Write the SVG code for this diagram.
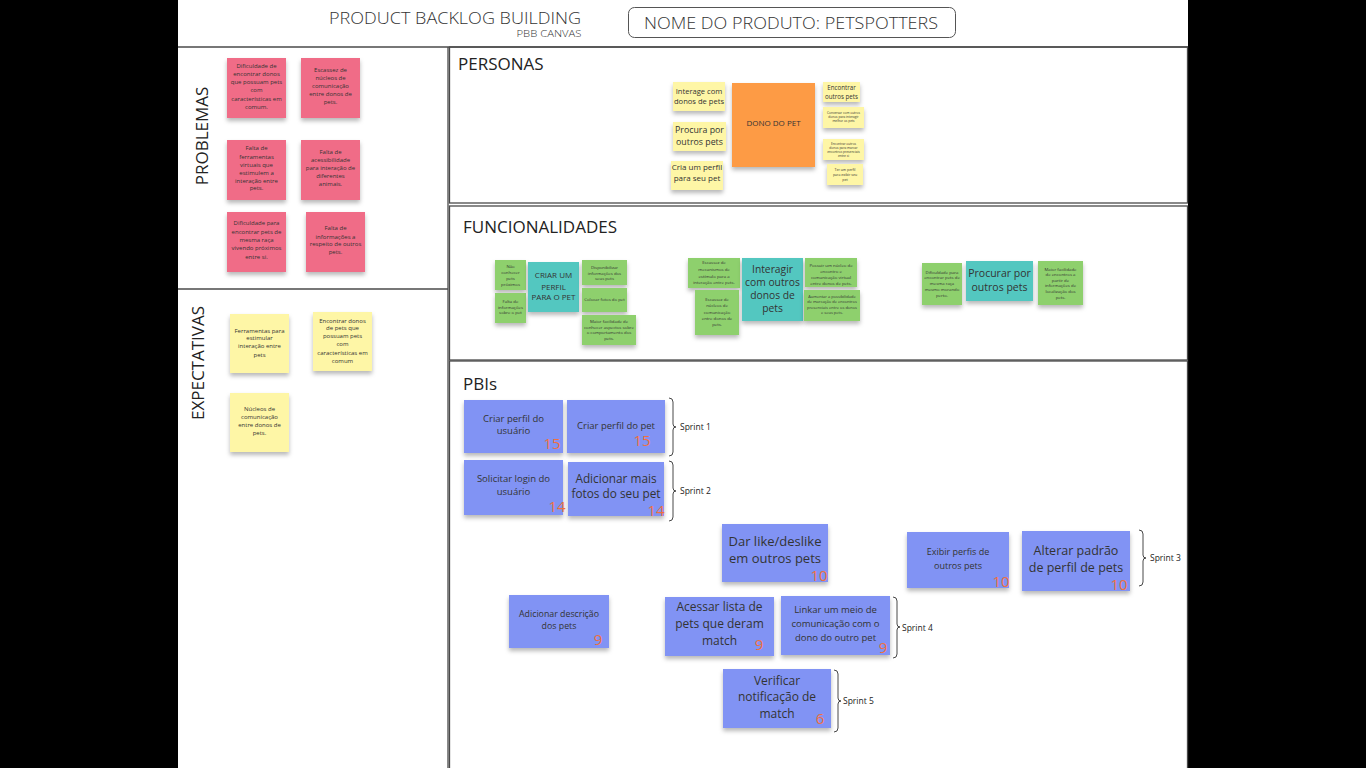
<svg xmlns="http://www.w3.org/2000/svg" width="1366" height="768" viewBox="0 0 1366 768">
<defs>
<filter id="sh" x="-20%" y="-20%" width="140%" height="150%">
<feDropShadow dx="0" dy="3" stdDeviation="2" flood-color="#000" flood-opacity="0.28"/>
</filter>
<style>
text{font-family:"Open Sans","Liberation Sans",sans-serif;fill:#333;text-anchor:middle}
.frame{fill:none;stroke:#4a4a4a;stroke-width:1.3}
.st{filter:url(#sh)}
.pink{fill:#f06c87}
.yel{fill:#fef6a6}
.org{fill:#fd9b45}
.grn{fill:#8ed06d}
.teal{fill:#52c7c0}
.blu{fill:#8193f4}
.title{font-size:17px;text-anchor:start;fill:#222}
.num{fill:#f0703e;font-size:15px}
.t65{font-size:6px}
.t45{font-size:4.3px}
.sp{font-size:8.5px;text-anchor:start;fill:#222}
.br{fill:none;stroke:#333;stroke-width:0.9}
</style>
</defs>
<rect x="0" y="0" width="1366" height="768" fill="#000"/>
<rect x="178" y="0" width="1010" height="768" fill="#fff"/>
<g id="frame">
<line class="frame" x1="178" y1="47" x2="1188" y2="47"/>
<line class="frame" x1="448" y1="47" x2="448" y2="768"/>
<line class="frame" x1="178" y1="289" x2="448" y2="289"/>
<rect class="frame" x="449.5" y="47" width="738" height="156"/>
<rect class="frame" x="449.5" y="206" width="738" height="154"/>
<rect class="frame" x="449.5" y="361" width="738" height="408"/>
</g>
<g id="header">
<text x="455" y="24" style="font-size:16px;fill:#333;font-weight:300" textLength="252" lengthAdjust="spacingAndGlyphs">PRODUCT BACKLOG BUILDING</text>
<text x="549" y="37" style="font-size:8.5px;fill:#333;font-weight:300" textLength="65" lengthAdjust="spacingAndGlyphs">PBB CANVAS</text>
<rect x="628.5" y="7.5" width="327" height="30" rx="6" fill="#fff" stroke="#555" stroke-width="1"/>
<text x="791" y="28.5" style="font-size:17px;fill:#333;font-weight:300" textLength="294" lengthAdjust="spacingAndGlyphs">NOME DO PRODUTO: PETSPOTTERS</text>
</g>
<g id="titles">
<text transform="translate(208,136) rotate(-90)" style="font-size:17px;fill:#222">PROBLEMAS</text>
<text transform="translate(204,363) rotate(-90)" style="font-size:17px;fill:#222">EXPECTATIVAS</text>
<text class="title" x="458" y="70">PERSONAS</text>
<text class="title" x="463" y="233">FUNCIONALIDADES</text>
<text class="title" x="463" y="390">PBIs</text>
</g>
<g id="problemas">
<g id="p1"><rect class="st pink" x="227" y="58" width="59" height="60"/><text class="t65"><tspan x="256.5" y="68">Dificuldade de</tspan><tspan x="256.5" y="76">encontrar donos</tspan><tspan x="256.5" y="84">que possuam pets</tspan><tspan x="256.5" y="92">com</tspan><tspan x="256.5" y="101">características em</tspan><tspan x="256.5" y="109">comum.</tspan></text></g>
<g id="p2"><rect class="st pink" x="301" y="58" width="59" height="60"/><text class="t65"><tspan x="330.5" y="72">Escassez de</tspan><tspan x="330.5" y="80">núcleos de</tspan><tspan x="330.5" y="88">comunicação</tspan><tspan x="330.5" y="96">entre donos de</tspan><tspan x="330.5" y="104">pets.</tspan></text></g>
<g id="p3"><rect class="st pink" x="227" y="140" width="59" height="60"/><text class="t65"><tspan x="256.5" y="150">Falta de</tspan><tspan x="256.5" y="159">ferramentas</tspan><tspan x="256.5" y="167">virtuais que</tspan><tspan x="256.5" y="175">estimulem a</tspan><tspan x="256.5" y="183">interação entre</tspan><tspan x="256.5" y="190">pets.</tspan></text></g>
<g id="p4"><rect class="st pink" x="301" y="140" width="59" height="60"/><text class="t65"><tspan x="330.5" y="154">Falta de</tspan><tspan x="330.5" y="162">acessibilidade</tspan><tspan x="330.5" y="170">para interação de</tspan><tspan x="330.5" y="178">diferentes</tspan><tspan x="330.5" y="186">animais.</tspan></text></g>
<g id="p5"><rect class="st pink" x="227" y="212" width="59" height="60"/><text class="t65"><tspan x="256.5" y="225">Dificuldade para</tspan><tspan x="256.5" y="234">encontrar pets de</tspan><tspan x="256.5" y="242">mesma raça</tspan><tspan x="256.5" y="250">vivendo próximos</tspan><tspan x="256.5" y="259">entre si.</tspan></text></g>
<g id="p6"><rect class="st pink" x="306" y="212" width="59" height="60"/><text class="t65"><tspan x="335.5" y="230">Falta de</tspan><tspan x="335.5" y="239">informações a</tspan><tspan x="335.5" y="246">respeito de outros</tspan><tspan x="335.5" y="254">pets.</tspan></text></g>
</g>
<g id="expectativas">
<g id="e1"><rect class="st yel" x="230" y="314" width="59" height="59"/><text class="t65"><tspan x="259.5" y="333">Ferramentas para</tspan><tspan x="259.5" y="340">estimular</tspan><tspan x="259.5" y="348">interação entre</tspan><tspan x="259.5" y="357">pets</tspan></text></g>
<g id="e2"><rect class="st yel" x="313" y="312" width="59" height="59"/><text class="t65"><tspan x="342.5" y="323">Encontrar donos</tspan><tspan x="342.5" y="330">de pets que</tspan><tspan x="342.5" y="338">possuam pets</tspan><tspan x="342.5" y="346">com</tspan><tspan x="342.5" y="355">características em</tspan><tspan x="342.5" y="363">comum</tspan></text></g>
<g id="e3"><rect class="st yel" x="230" y="393" width="59" height="59"/><text class="t65"><tspan x="259.5" y="411">Núcleos de</tspan><tspan x="259.5" y="419">comunicação</tspan><tspan x="259.5" y="427">entre donos de</tspan><tspan x="259.5" y="435">pets.</tspan></text></g>
</g>
<g id="personas">
<g id="pe1"><rect class="st yel" x="673" y="82" width="52" height="29"/><text style="font-size:7.6px"><tspan x="699" y="94">Interage com</tspan><tspan x="699" y="104">donos de pets</tspan></text></g>
<g id="pe2"><rect class="st yel" x="673" y="122" width="53" height="29"/><text style="font-size:8.8px"><tspan x="699.5" y="133">Procura por</tspan><tspan x="699.5" y="145">outros pets</tspan></text></g>
<g id="pe3"><rect class="st yel" x="671" y="161" width="52" height="29"/><text style="font-size:8px"><tspan x="697" y="170">Cria um perfil</tspan><tspan x="697" y="181">para seu pet</tspan></text></g>
<g id="pe4"><rect class="st org" x="732" y="83" width="83" height="84"/><text x="773.5" y="126" style="font-size:8px">DONO DO PET</text></g>
<g id="pe5"><rect class="st yel" x="823" y="82" width="37" height="20"/><text style="font-size:6.2px"><tspan x="841.5" y="90">Encontrar</tspan><tspan x="841.5" y="98.5">outros pets</tspan></text></g>
<g id="pe6"><rect class="st yel" x="823" y="107" width="41" height="21"/><text style="font-size:3.2px"><tspan x="843.5" y="114">Conversar com outros</tspan><tspan x="843.5" y="118">donos para interagir</tspan><tspan x="843.5" y="122">melhor os pets</tspan></text></g>
<g id="pe7"><rect class="st yel" x="823" y="139" width="41" height="21"/><text style="font-size:3.2px"><tspan x="843.5" y="145">Encontrar outros</tspan><tspan x="843.5" y="149">donos para marcar</tspan><tspan x="843.5" y="153">encontros presenciais</tspan><tspan x="843.5" y="157">entre si</tspan></text></g>
<g id="pe8"><rect class="st yel" x="827" y="164" width="36" height="21"/><text style="font-size:3.5px"><tspan x="845" y="171">Ter um perfil</tspan><tspan x="845" y="176">para exibir seu</tspan><tspan x="845" y="181">pet</tspan></text></g>
</g>
<g id="funcionalidades">
<g id="f1"><rect class="st grn" x="495" y="260" width="31" height="30"/><text class="t45"><tspan x="510.5" y="267.5">Não</tspan><tspan x="510.5" y="273.5">conhecer</tspan><tspan x="510.5" y="279.5">pets</tspan><tspan x="510.5" y="285.5">próximos</tspan></text></g>
<g id="f2"><rect class="st grn" x="495" y="293" width="31" height="30"/><text class="t45"><tspan x="510.5" y="302.5">Falta de</tspan><tspan x="510.5" y="308.5">informações</tspan><tspan x="510.5" y="313.5">sobre o pet</tspan></text></g>
<g id="f3"><rect class="st teal" x="528" y="262" width="51" height="50"/><text style="font-size:8px"><tspan x="553.5" y="278">CRIAR UM</tspan><tspan x="553.5" y="290">PERFIL</tspan><tspan x="553.5" y="300">PARA O PET</tspan></text></g>
<g id="f4"><rect class="st grn" x="582" y="260" width="45" height="25"/><text class="t45"><tspan x="604.5" y="268.5">Disponibilizar</tspan><tspan x="604.5" y="274.5">informações dos</tspan><tspan x="604.5" y="279.5">seus pets</tspan></text></g>
<g id="f5"><rect class="st grn" x="582" y="288" width="45" height="24"/><text class="t45" x="604.5" y="300.5">Colocar fotos do pet</text></g>
<g id="f6"><rect class="st grn" x="582" y="315" width="54" height="30"/><text class="t45"><tspan x="609" y="322.5">Maior facilidade de</tspan><tspan x="609" y="328.5">conhecer aspectos sobre</tspan><tspan x="609" y="333.5">o comportamento dos</tspan><tspan x="609" y="339.5">pets.</tspan></text></g>
<g id="f7"><rect class="st grn" x="688" y="258" width="52" height="30"/><text class="t45"><tspan x="714" y="263.5">Escassez de</tspan><tspan x="714" y="270.5">mecanismos de</tspan><tspan x="714" y="277.5">estímulo para a</tspan><tspan x="714" y="283.5">interação entre pets.</tspan></text></g>
<g id="f8"><rect class="st grn" x="695" y="290" width="44" height="45"/><text class="t45"><tspan x="717" y="300.5">Escassez de</tspan><tspan x="717" y="306.5">núcleos de</tspan><tspan x="717" y="313.5">comunicação</tspan><tspan x="717" y="319.5">entre donos de</tspan><tspan x="717" y="325.5">pets.</tspan></text></g>
<g id="f9"><rect class="st teal" x="742" y="258" width="61" height="63"/><text style="font-size:10.3px"><tspan x="772.5" y="273">Interagir</tspan><tspan x="772.5" y="286">com outros</tspan><tspan x="772.5" y="299">donos de</tspan><tspan x="772.5" y="312">pets</tspan></text></g>
<g id="f10"><rect class="st grn" x="805" y="258" width="52" height="29"/><text class="t45"><tspan x="831" y="266.5">Possuir um núcleo de</tspan><tspan x="831" y="272.5">encontro e</tspan><tspan x="831" y="278.5">comunicação virtual</tspan><tspan x="831" y="284.5">entre donos de pets.</tspan></text></g>
<g id="f11"><rect class="st grn" x="804" y="290" width="56" height="31"/><text style="font-size:4px"><tspan x="832" y="297.5">Aumentar a possibilidade</tspan><tspan x="832" y="302.5">de marcação de encontros</tspan><tspan x="832" y="308.5">presenciais entre os donos</tspan><tspan x="832" y="313.5">e seus pets.</tspan></text></g>
<g id="f12"><rect class="st grn" x="922" y="263" width="40" height="42"/><text class="t45"><tspan x="942" y="273.5">Dificuldade para</tspan><tspan x="942" y="278.5">encontrar pets de</tspan><tspan x="942" y="284.5">mesma raça</tspan><tspan x="942" y="290.5">mesmo morando</tspan><tspan x="942" y="296.5">perto.</tspan></text></g>
<g id="f13"><rect class="st teal" x="966" y="261" width="67" height="40"/><text style="font-size:10.5px"><tspan x="999.5" y="277">Procurar por</tspan><tspan x="999.5" y="291">outros pets</tspan></text></g>
<g id="f14"><rect class="st grn" x="1038" y="261" width="45" height="44"/><text class="t45"><tspan x="1060.5" y="270.5">Maior facilidade</tspan><tspan x="1060.5" y="275.5">de encontros a</tspan><tspan x="1060.5" y="281.5">partir de</tspan><tspan x="1060.5" y="286.5">informações de</tspan><tspan x="1060.5" y="292.5">localização dos</tspan><tspan x="1060.5" y="298.5">pets.</tspan></text></g>
</g>
<g id="pbis">
<g id="b1"><rect class="st blu" x="464" y="400" width="99" height="53"/><text style="font-size:9.5px"><tspan x="513.5" y="422">Criar perfil do</tspan><tspan x="513.5" y="434">usuário</tspan></text><text class="num" x="552" y="449">15</text></g>
<g id="b2"><rect class="st blu" x="567" y="400" width="98" height="53"/><text style="font-size:9.5px" x="616" y="429">Criar perfil do pet</text><text class="num" x="642" y="446">15</text></g>
<g id="b3"><rect class="st blu" x="464" y="460" width="99" height="55"/><text style="font-size:9.5px"><tspan x="513.5" y="482">Solicitar login do</tspan><tspan x="513.5" y="495">usuário</tspan></text><text class="num" x="557" y="512">14</text></g>
<g id="b4"><rect class="st blu" x="568" y="462" width="96" height="54"/><text style="font-size:11.8px"><tspan x="616" y="483">Adicionar mais</tspan><tspan x="616" y="498">fotos do seu pet</tspan></text><text class="num" x="656" y="516">14</text></g>
<g id="b5"><rect class="st blu" x="722" y="524" width="106" height="58"/><text style="font-size:13px"><tspan x="775" y="546">Dar like/deslike</tspan><tspan x="775" y="563">em outros pets</tspan></text><text class="num" x="819" y="581">10</text></g>
<g id="b6"><rect class="st blu" x="907" y="532" width="102" height="56"/><text style="font-size:9px"><tspan x="958" y="555">Exibir perfis de</tspan><tspan x="958" y="569">outros pets</tspan></text><text class="num" x="1001" y="587">10</text></g>
<g id="b7"><rect class="st blu" x="1022" y="531" width="108" height="60"/><text style="font-size:12.5px"><tspan x="1076" y="555">Alterar padrão</tspan><tspan x="1076" y="572">de perfil de pets</tspan></text><text class="num" x="1119" y="590">10</text></g>
<g id="b8"><rect class="st blu" x="509" y="595" width="100" height="53"/><text style="font-size:8.8px"><tspan x="559" y="617">Adicionar descrição</tspan><tspan x="559" y="629">dos pets</tspan></text><text class="num" x="598" y="645">9</text></g>
<g id="b9"><rect class="st blu" x="665" y="597" width="109" height="59"/><text style="font-size:12px"><tspan x="719.5" y="611">Acessar lista de</tspan><tspan x="719.5" y="628">pets que deram</tspan><tspan x="719.5" y="645">match</tspan></text><text class="num" x="759" y="650">9</text></g>
<g id="b10"><rect class="st blu" x="781" y="596" width="109" height="59"/><text style="font-size:9.5px"><tspan x="835.5" y="613">Linkar um meio de</tspan><tspan x="835.5" y="627">comunicação com o</tspan><tspan x="835.5" y="641">dono do outro pet</tspan></text><text class="num" x="883" y="653">9</text></g>
<g id="b11"><rect class="st blu" x="723" y="669" width="108" height="59"/><text style="font-size:12px"><tspan x="777" y="685">Verificar</tspan><tspan x="777" y="701">notificação de</tspan><tspan x="777" y="718">match</tspan></text><text class="num" x="820" y="724">6</text></g>
</g>
<g id="connectors">
<path class="br" d="M669,398 q4,0 4,4 v22 q0,3 3,3 q-3,0 -3,3 v22 q0,4 -4,4"/>
<path class="br" d="M669,461 q4,0 4,4 v23 q0,3 3,3 q-3,0 -3,3 v23 q0,4 -4,4"/>
<path class="br" d="M1139,530 q4,0 4,4 v21 q0,3 3,3 q-3,0 -3,3 v21 q0,4 -4,4"/>
<path class="br" d="M893,597 q4,0 4,4 v23 q0,3 3,3 q-3,0 -3,3 v24 q0,4 -4,4"/>
<path class="br" d="M834,670 q4,0 4,4 v24 q0,3 3,3 q-3,0 -3,3 v24 q0,4 -4,4"/>
<text class="sp" x="680" y="430">Sprint 1</text>
<text class="sp" x="680" y="494">Sprint 2</text>
<text class="sp" x="1150" y="561">Sprint 3</text>
<text class="sp" x="902" y="631">Sprint 4</text>
<text class="sp" x="843" y="704">Sprint 5</text>
</g>
</svg>
